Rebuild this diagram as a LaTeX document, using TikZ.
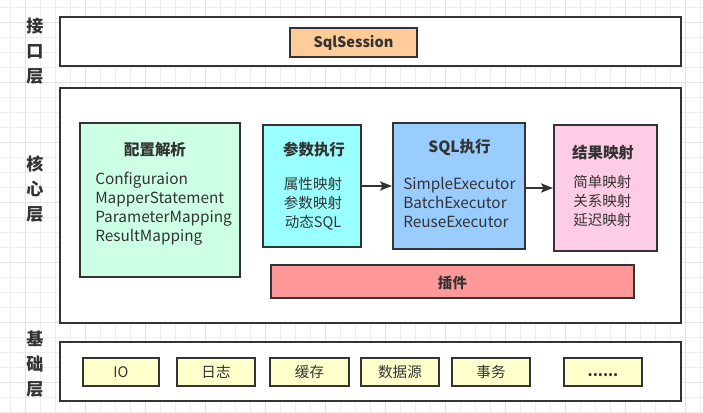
\documentclass[tikz,border=0pt]{standalone}
\usepackage{fontspec}
\setmainfont{Noto Sans CJK SC}
\usetikzlibrary{fit,arrows.meta}
\definecolor{ln}{HTML}{333333}
\definecolor{gminor}{HTML}{EEEEEE}
\definecolor{gmajor}{HTML}{E2E2E2}
\definecolor{cSql}{HTML}{FFCC99}
\definecolor{cCfg}{HTML}{CCFFE6}
\definecolor{cPar}{HTML}{99FFFF}
\definecolor{cExe}{HTML}{99CCFF}
\definecolor{cRes}{HTML}{FFCCE6}
\definecolor{cPlg}{HTML}{FF9999}
\definecolor{cBase}{HTML}{FFFFCC}
\tikzset{
  layerbox/.style={draw=ln, line width=1.6pt, fill=white, inner sep=0pt},
  bx/.style={draw=ln, line width=1.6pt, inner sep=0pt, text=ln},
  ttl/.style={font=\fontsize{11.6pt}{14pt}\selectfont\bfseries, text=ln, inner sep=0pt},
  body/.style={font=\fontsize{10.9pt}{14.25pt}\selectfont, text=ln, inner sep=0pt},
  latin/.style={font=\fontsize{11.5pt}{14.25pt}\selectfont, text=ln, inner sep=0pt},
  side/.style={font=\fontsize{12.8pt}{18.75pt}\selectfont\bfseries, text=ln, align=center, inner sep=0pt},
  basetxt/.style={font=\fontsize{10.9pt}{13pt}\selectfont, text=ln, inner sep=0pt},
  boldtxt/.style={font=\fontsize{10.9pt}{13pt}\selectfont\bfseries, text=ln, inner sep=0pt},
  basebox/.style={bx, fill=cBase},
  arr/.style={draw=ln, line width=1.1pt, -{Stealth[length=9pt,width=7pt,inset=2pt]}},
}
\begin{document}
\begin{tikzpicture}[x=0.75pt,y=-0.75pt]
\useasboundingbox (0,0) rectangle (703,413);
\fill[white] (0,0) rectangle (703,413);
\foreach \i in {0,...,46} \draw[gminor, line width=0.6pt] ({10.5+15*\i},0) -- ({10.5+15*\i},413);
\foreach \j in {0,...,27} \draw[gminor, line width=0.6pt] (0,{7.5+15*\j}) -- (703,{7.5+15*\j});
\foreach \i in {0,...,11} \draw[gmajor, line width=0.6pt] ({25.5+60*\i},0) -- ({25.5+60*\i},413);
\foreach \j in {0,...,6} \draw[gmajor, line width=0.6pt] (0,{22.5+60*\j}) -- (703,{22.5+60*\j});

% side labels
\node[side] (lif) at (35,51) {接\\口\\层};
\node[side] (lcore) at (35,189) {核\\心\\层};
\node[side] (lbase) at (35,364) {基\\础\\层};

% interface layer
\node[layerbox, fit={(60,17)(681,66)}] (iface) {};
\node[bx, fill=cSql, fit={(290,28)(417,57)}] (sqls) {};
\node[boldtxt] (sqlst) at (sqls.center) {SqlSession};

% core layer
\node[layerbox, fit={(60,88)(681,323)}] (core) {};
\node[bx, fill=cCfg, fit={(80,123)(240,277)}] (cfg) {};
\node[ttl] (cfgt) at (155,150) {配置解析};
\node[latin, anchor=west, align=left] (cfgb) at (95,208.5) {Configuraion\\MapperStatement\\ParameterMapping\\ResultMapping};

\node[bx, fill=cPar, fit={(263,125)(361,247)}] (par) {};
\node[ttl] (part) at (314,150) {参数执行};
\node[body, align=center] (parb) at (313,203.5) {属性映射\\参数映射\\动态SQL};

\node[bx, fill=cExe, fit={(393,123)(525,249)}] (exe) {};
\node[ttl] (exet) at (459.5,148) {SQL执行};
\node[latin, anchor=west, align=left] (exeb) at (403,202) {SimpleExecutor\\BatchExecutor\\ReuseExecutor};

\node[bx, fill=cRes, fit={(554,125)(657,251)}] (res) {};
\node[ttl] (rest) at (603,153) {结果映射};
\node[body, anchor=west, align=left] (resb) at (573,201) {简单映射\\关系映射\\延迟映射};

\node[bx, fill=cPlg, fit={(271,265)(634,298)}] (plg) {};
\node[boldtxt] (plgt) at (452.5,283) {插件};

\draw[arr] (par.east) -- (exe.west);
\draw[arr] ([yshift=-1.5pt]exe.east) -- ([yshift=-1.5pt]exe.east -| res.west);

% base layer
\node[layerbox, fit={(60,342)(681,401)}] (base) {};
\node[basebox, fit={(83,358)(159,386)}] (b1) {};
\node[basebox, fit={(177,358)(255,386)}] (b2) {};
\node[basebox, fit={(270,358)(349,386)}] (b3) {};
\node[basebox, fit={(361,358)(439,386)}] (b4) {};
\node[basebox, fit={(452,358)(530,386)}] (b5) {};
\node[basebox, fit={(564,358)(642,386)}] (b6) {};
\node[basetxt] (b1t) at (b1.center) {IO};
\node[basetxt] (b2t) at (b2.center) {日志};
\node[basetxt] (b3t) at (b3.center) {缓存};
\node[basetxt] (b4t) at (b4.center) {数据源};
\node[basetxt] (b5t) at (b5.center) {事务};
\node[boldtxt] (b6t) at ([yshift=-2.5pt]b6.center) {......};
\end{tikzpicture}
\end{document}
